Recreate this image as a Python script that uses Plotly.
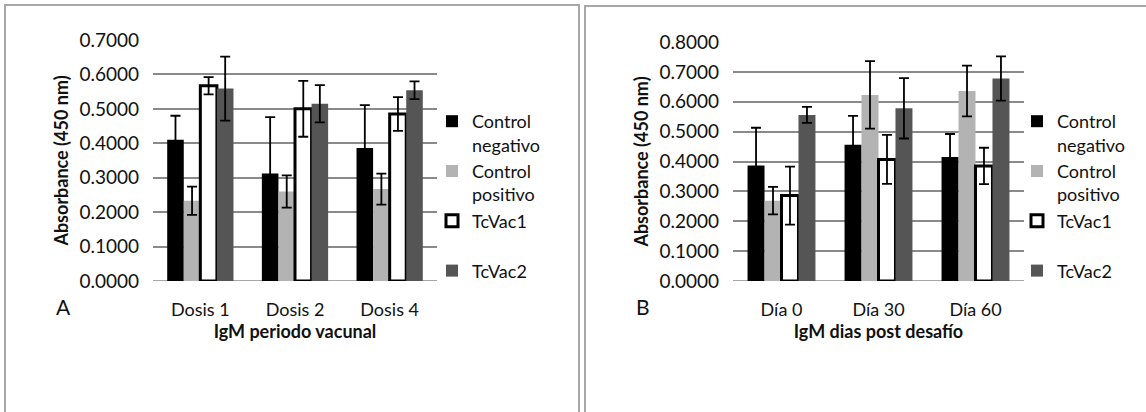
import plotly.graph_objects as go

W, H = 1146, 412

# ---------------- data ----------------
series_names = ["Control<br>negativo", "Control<br>positivo", "TcVac1<br>\u00a0", "TcVac2"]

cat_a = ["Dosis 1", "Dosis 2", "Dosis 4"]
neg_a = [0.410, 0.312, 0.386]
neg_a_err = [0.070, 0.164, 0.125]
pos_a = [0.233, 0.260, 0.267]
pos_a_err = [0.041, 0.047, 0.045]
vac1_a = [0.567, 0.500, 0.485]
vac1_a_err = [0.025, 0.081, 0.049]
vac2_a = [0.559, 0.515, 0.554]
vac2_a_err = [0.093, 0.054, 0.026]

cat_b = ["Día 0", "Día 30", "Día 60"]
neg_b = [0.387, 0.456, 0.415]
neg_b_err = [0.126, 0.097, 0.077]
pos_b = [0.269, 0.623, 0.636]
pos_b_err = [0.046, 0.113, 0.085]
vac1_b = [0.286, 0.407, 0.385]
vac1_b_err = [0.097, 0.082, 0.061]
vac2_b = [0.556, 0.578, 0.678]
vac2_b_err = [0.027, 0.101, 0.074]

ytitle = "Absorbance (450 nm)"
xtitle_a = "IgM periodo vacunal"
xtitle_b = "IgM dias post desafío"

# ---------------- style ----------------
FONT = "Lato, 'Open Sans', sans-serif"
fills = ["#000000", "#b3b3b3", "#ffffff", "#555555"]
lines = ["#000000", "#b3b3b3", "#000000", "#555555"]
line_w = [0, 0, 3, 0]
GRID = "#8a8a8a"
BORDER = "#a8a8a8"
TXT = "#111111"


def px_x(p):
    return p / W


def px_y(p):
    return 1 - p / H


fig = go.Figure()

groups = [
    (cat_a, [neg_a, pos_a, vac1_a, vac2_a], [neg_a_err, pos_a_err, vac1_a_err, vac2_a_err], "x", "y", "legend"),
    (cat_b, [neg_b, pos_b, vac1_b, vac2_b], [neg_b_err, pos_b_err, vac1_b_err, vac2_b_err], "x2", "y2", "legend2"),
]
for cats, vals, errs, xa, ya, lg in groups:
    for i, name in enumerate(series_names):
        fig.add_trace(go.Bar(
            x=cats, y=vals[i], name=name,
            xaxis=xa, yaxis=ya, legend=lg,
            marker=dict(color=fills[i], line=dict(color=lines[i], width=line_w[i])),
            error_y=dict(type="data", array=errs[i], visible=True,
                         color="#000000", thickness=1.8, width=5),
        ))

xcommon = dict(showline=False, zeroline=False, ticks="", automargin=False,
               showgrid=False, ticklabelstandoff=16,
               tickfont=dict(family=FONT, size=18, color=TXT))
ycommon = dict(showline=False, zeroline=False, ticks="", automargin=False,
               showgrid=True, gridcolor=GRID, gridwidth=1.6, dtick=0.1,
               tickformat=".4f", ticklabelstandoff=13,
               tickfont=dict(family=FONT, size=19, color=TXT))
title_font = dict(family=FONT, size=18, weight="bold", color=TXT)

fig.update_layout(
    template="none",
    width=W, height=H,
    margin=dict(l=0, r=0, t=0, b=0, autoexpand=False),
    paper_bgcolor="white", plot_bgcolor="white",
    font=dict(family=FONT, color=TXT),
    barmode="group", bargap=0.3, bargroupgap=0,
    showlegend=True,
    xaxis=dict(domain=[px_x(153), px_x(437)], anchor="y",
               title=dict(text=xtitle_a, font=title_font, standoff=4), **xcommon),
    yaxis=dict(domain=[px_y(281), px_y(40)], anchor="x", range=[0, 0.7],
               title=dict(text=ytitle, font=title_font, standoff=6), **ycommon),
    xaxis2=dict(domain=[px_x(733), px_x(1024)], anchor="y2",
                title=dict(text=xtitle_b, font=title_font, standoff=4), **xcommon),
    yaxis2=dict(domain=[px_y(281), px_y(42)], anchor="x2", range=[0, 0.8],
                title=dict(text=ytitle, font=title_font, standoff=6), **ycommon),
    legend=dict(x=px_x(432), y=px_y(103), xanchor="left", yanchor="top",
                valign="top", tracegroupgap=0, bgcolor="rgba(0,0,0,0)",
                font=dict(family=FONT, size=18, color=TXT)),
    legend2=dict(x=px_x(1017), y=px_y(103), xanchor="left", yanchor="top",
                 valign="top", tracegroupgap=0, bgcolor="rgba(0,0,0,0)",
                 font=dict(family=FONT, size=18, color=TXT)),
    shapes=[
        dict(type="rect", xref="paper", yref="paper",
             x0=px_x(5), x1=px_x(579), y0=-0.1, y1=px_y(5),
             line=dict(color=BORDER, width=2), fillcolor="rgba(0,0,0,0)", layer="below"),
        dict(type="rect", xref="paper", yref="paper",
             x0=px_x(585), x1=1.1, y0=-0.1, y1=px_y(6),
             line=dict(color=BORDER, width=2), fillcolor="rgba(0,0,0,0)", layer="below"),
        dict(type="line", xref="x domain", yref="y", x0=0, x1=1, y0=0, y1=0,
             line=dict(color=GRID, width=1.6), layer="below"),
        dict(type="line", xref="x2 domain", yref="y2", x0=0, x1=1, y0=0, y1=0,
             line=dict(color=GRID, width=1.6), layer="below"),
    ],
    annotations=[
        dict(text="A", xref="paper", yref="paper", x=px_x(63), y=px_y(306),
             xanchor="center", yanchor="middle",
             showarrow=False, font=dict(family=FONT, size=21, color=TXT)),
        dict(text="B", xref="paper", yref="paper", x=px_x(643), y=px_y(306),
             xanchor="center", yanchor="middle",
             showarrow=False, font=dict(family=FONT, size=21, color=TXT)),
    ],
)

fig.write_html("out.html", config={"displayModeBar": False},
               post_script="document.body.style.margin='0';")
